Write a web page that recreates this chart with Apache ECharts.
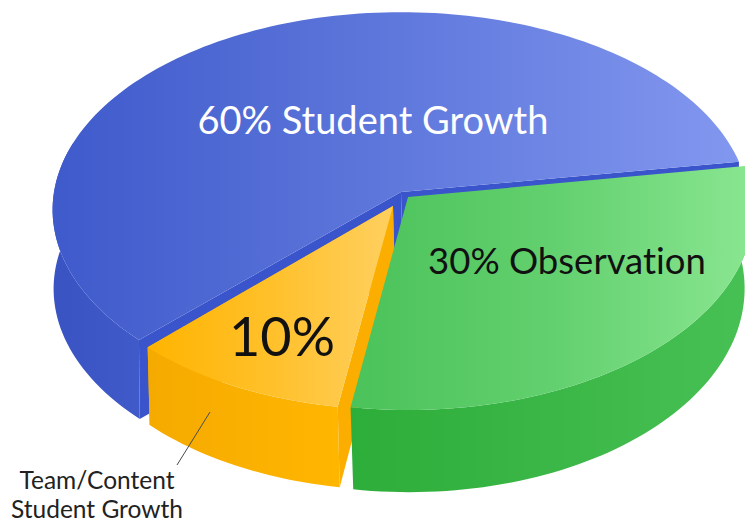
<!DOCTYPE html>
<html>
<head>
<meta charset="utf-8">
<style>
html,body{margin:0;padding:0;background:#fff}
#chart{width:745px;height:523px}
#chart text{font-variant-ligatures:none !important}
</style>
<script src="https://cdn.jsdelivr.net/npm/echarts@6/dist/echarts.min.js"></script>
</head>
<body>
<div id="chart"></div>
<script>
// Evaluation weights, counter-clockwise from the right-hand edge of the largest slice.
const shareNames = ['Student Growth', 'Team/Content Student Growth', 'Observation'];
const shareValues = [60, 10, 30];
const shareLabels = ['60% Student Growth', '10%', '30% Observation'];
const captionLines = ['Team/Content', 'Student Growth'];

const START_ANGLE = 9;    // degrees, where the first slice begins on the disc
const FONT = 'Lato, "Noto Sans", sans-serif';

// Projection of each slice: upper disc, lower disc, and the foot of the inner corner.
const slices = [
  {
    tilt: 0.09,
    top: {cx: 401, cy: 192, rx: 347, ry: 196}, bottom: {cx: 401, cy: 271, rx: 346, ry: 196}, foot: [403, 270],
    face: ['#3f5acb', '#5f78dc', '#8297ef'], side: ['#3a53c2', '#405ac9'], wall: '#3a54cc',
    label: {x: 373, y: 119, size: 38, color: '#ffffff'}
  },
  {
    tilt: 0.061,
    top: {cx: 393, cy: 206, rx: 332, ry: 191}, bottom: {cx: 395, cy: 278, rx: 332, ry: 199}, foot: [395, 278],
    face: ['#ffb400', '#ffc02a', '#ffd060'], side: ['#f5aa00', '#ffb600'], wall: '#fcae00',
    label: {x: 282, y: 335, size: 54, color: '#111111'}
  },
  {
    tilt: 0.061,
    top: {cx: 408, cy: 197, rx: 345, ry: 200}, bottom: {cx: 409, cy: 276, rx: 335, ry: 203}, foot: [409, 276],
    face: ['#4bc25a', '#62d06e', '#8ae691'], side: ['#2dad3a', '#48c154'], wall: '#2dad3a',
    label: {x: 567, y: 260, size: 36.5, color: '#111111'}
  }
];

const total = shareValues.reduce((a, b) => a + b, 0);
const spans = [];
shareValues.reduce((from, v) => {
  const to = from + v / total * 360;
  spans.push([from, to]);
  return to;
}, START_ANGLE);

// Perspective projection of a disc point at angle deg.
function project(d, deg, tilt) {
  const a = deg * Math.PI / 180;
  const w = 1 + tilt * Math.sin(a);
  return [d.cx + d.rx * Math.cos(a) / w, d.cy - d.ry * Math.sin(a) / w];
}

function arc(d, from, to, tilt) {
  const pts = [];
  const n = Math.max(2, Math.ceil(Math.abs(to - from) / 1.5));
  for (let i = 0; i <= n; i++) pts.push(project(d, from + (to - from) * i / n, tilt));
  return pts;
}

function hGradient(colors) {
  return new echarts.graphic.LinearGradient(0, 0, 1, 0,
    colors.map((c, i) => ({offset: i / (colors.length - 1), color: c})));
}

function polygon(points, fill, z2) {
  return {type: 'polygon', z2, shape: {points}, style: {fill, stroke: null}};
}

function renderSlice(params, api) {
  const i = params.dataIndex;
  const s = slices[i];
  const from = api.value(1), to = api.value(2);
  const topApex = [s.top.cx, s.top.cy];
  // The outer rim only shows on the near side of the pie.
  const rimFrom = i === 0 ? 165 : from;
  const rimTop = arc(s.top, rimFrom, to, s.tilt);
  const rimBottom = arc(s.bottom, rimFrom, to, s.tilt);
  const children = [];

  const wallAt = deg => [topApex, project(s.top, deg, s.tilt), project(s.bottom, deg, s.tilt), s.foot];
  // The green slice is in front, so its inner walls stay out of sight.
  if (i !== 2) {
    children.push(polygon(wallAt(from), s.wall, 1));
    children.push(polygon(wallAt(to), s.wall, 1));
  }
  children.push(polygon(rimTop.concat(rimBottom.slice().reverse()), hGradient(s.side), 2));
  children.push(polygon([topApex].concat(arc(s.top, from, to, s.tilt)), hGradient(s.face), 3));
  children.push({
    type: 'text', z2: 5,
    style: {
      x: s.label.x, y: s.label.y, text: shareLabels[i], fill: s.label.color,
      font: s.label.size + 'px ' + FONT, align: 'center', verticalAlign: 'middle'
    }
  });
  if (i === 1) {
    children.push({
      type: 'line', z2: 5,
      shape: {x1: 210, y1: 412, x2: 177, y2: 465},
      style: {stroke: '#4a4a4a', lineWidth: 1}
    });
    captionLines.forEach((line, k) => {
      children.push({
        type: 'text', z2: 5,
        style: {
          x: 97, y: 479 + k * 29, text: line, fill: '#222222',
          font: '24.5px ' + FONT, align: 'center', verticalAlign: 'middle'
        }
      });
    });
  }
  return {type: 'group', children};
}

const chart = echarts.init(document.getElementById('chart'), null, {renderer: 'svg'});
chart.setOption({
  animation: false,
  backgroundColor: '#ffffff',
  series: [{
    type: 'custom',
    coordinateSystem: 'none',
    renderItem: renderSlice,
    silent: true,
    clip: false,
    data: shareValues.map((v, i) => ({name: shareNames[i], value: [v, spans[i][0], spans[i][1]]}))
  }]
});
</script>
</body>
</html>
